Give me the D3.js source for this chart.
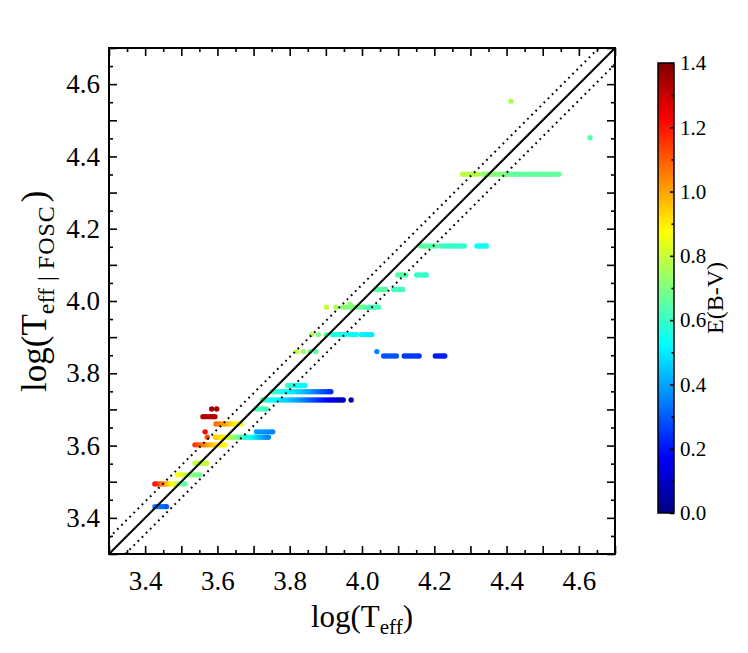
<!DOCTYPE html>
<html>
<head>
<meta charset="utf-8">
<script src="https://d3js.org/d3.v7.min.js"></script>
<style>
  body { margin: 0; background: #fff; }
  text { font-family: "Liberation Serif", "Times New Roman", serif; fill: #000; }
</style>
</head>
<body>
<div class="scatterChart"></div>
<script>
// ---- data ----
// log(Teff|FOSC) level of each horizontal row of stars
var rowLevels = [4.553, 4.452, 4.351, 4.152, 4.072, 4.032, 3.983, 3.991, 3.907, 3.860,
                 3.848, 3.766, 3.749, 3.726, 3.701, 3.680, 3.660, 3.638, 3.623, 3.602,
                 3.551, 3.519, 3.494, 3.431];

// points in each row: [log(Teff), E(B-V)]
var rowPoints = [
  [[4.412,0.76]],
  [[4.631,0.64]],
  [[4.278,0.78],[4.285,0.78],[4.292,0.78],[4.299,0.78],[4.306,0.78],[4.313,0.78],[4.320,0.78],
   [4.334,0.73],[4.341,0.73],[4.348,0.72],[4.355,0.72],[4.362,0.72],[4.369,0.71],[4.376,0.71],
   [4.383,0.70],[4.390,0.70],[4.397,0.69],[4.404,0.68],[4.411,0.67],[4.418,0.66],[4.425,0.66],
   [4.432,0.66],[4.439,0.66],[4.446,0.66],[4.453,0.66],[4.460,0.66],[4.467,0.66],[4.474,0.66],
   [4.481,0.66],[4.488,0.66],[4.495,0.66],[4.502,0.66],[4.509,0.66],[4.516,0.66],[4.523,0.66],
   [4.530,0.66],[4.537,0.66],[4.544,0.66]],
  [[4.163,0.65],[4.170,0.65],[4.177,0.65],[4.184,0.65],[4.191,0.65],[4.198,0.65],[4.205,0.65],
   [4.219,0.61],[4.226,0.61],[4.233,0.60],[4.240,0.60],[4.247,0.60],[4.254,0.60],[4.261,0.60],
   [4.268,0.59],[4.275,0.59],[4.283,0.59],
   [4.318,0.54],[4.325,0.54],[4.332,0.54],[4.339,0.54],[4.344,0.54]],
  [[4.099,0.64],[4.106,0.64],[4.113,0.64],[4.121,0.64],
   [4.151,0.60],[4.158,0.60],[4.165,0.60],[4.172,0.60],[4.178,0.60]],
  [[4.038,0.65],[4.045,0.65],[4.052,0.65],[4.059,0.65],[4.065,0.65],
   [4.088,0.62],[4.095,0.62],[4.102,0.62],[4.109,0.62],[4.113,0.62]],
  [[3.902,0.80],[3.928,0.76],[3.947,0.72],[3.954,0.72],[3.961,0.70],[3.968,0.70],[3.975,0.70],
   [3.982,0.70],[3.989,0.68],[3.996,0.68],[4.003,0.68],[4.008,0.66],
   [4.018,0.62],[4.025,0.62],[4.032,0.62],[4.039,0.62],[4.046,0.62]],
  [[3.967,0.72]],
  [[3.860,0.76],[3.879,0.70],[3.901,0.64],[3.918,0.57],[3.925,0.56],[3.932,0.56],[3.939,0.55],
   [3.946,0.55],[3.953,0.54],[3.968,0.53],[3.975,0.53],[3.984,0.53],
   [3.999,0.51],[4.006,0.51],[4.013,0.50],[4.020,0.50],[4.027,0.50]],
  [[3.819,0.80],[3.838,0.73],[3.856,0.68],[3.872,0.65],[4.041,0.36]],
  [[4.060,0.29],[4.067,0.29],[4.074,0.29],[4.081,0.29],[4.088,0.29],[4.095,0.29],
   [4.117,0.25],[4.124,0.25],[4.131,0.25],[4.138,0.25],[4.145,0.25],[4.152,0.25],[4.158,0.25],
   [4.203,0.21],[4.210,0.21],[4.217,0.21],[4.224,0.21],[4.229,0.21]],
  [[3.794,0.62],[3.802,0.58],[3.810,0.56],[3.818,0.55],[3.826,0.54],[3.834,0.53],[3.842,0.52]],
  [[3.753,0.62],[3.760,0.60],[3.767,0.58],[3.774,0.56],[3.781,0.55],[3.788,0.54],[3.795,0.52],
   [3.802,0.51],[3.809,0.50],[3.816,0.49],[3.823,0.47],[3.830,0.46],[3.837,0.45],[3.844,0.43],
   [3.851,0.41],[3.858,0.39],[3.865,0.37],[3.872,0.35],[3.879,0.33],[3.886,0.31],[3.893,0.29],
   [3.900,0.27],[3.907,0.25],[3.914,0.24]],
  [[3.725,0.63],[3.732,0.60],[3.739,0.58],[3.746,0.56],[3.753,0.54],[3.760,0.52],[3.767,0.51],
   [3.774,0.50],[3.781,0.48],[3.788,0.47],[3.795,0.46],[3.802,0.44],[3.809,0.43],[3.816,0.41],
   [3.823,0.39],[3.830,0.38],[3.837,0.36],[3.844,0.34],[3.851,0.32],[3.858,0.30],[3.865,0.28],
   [3.872,0.26],[3.879,0.24],[3.886,0.22],[3.893,0.21],[3.900,0.19],[3.907,0.17],[3.914,0.15],
   [3.921,0.14],[3.928,0.12],[3.935,0.11],[3.942,0.10],[3.948,0.09],[3.970,0.05]],
  [[3.584,1.35],[3.598,1.35],[3.707,0.62],[3.716,0.62],[3.726,0.61],[3.735,0.61]],
  [[3.560,1.33],[3.567,1.33],[3.574,1.33],[3.581,1.33],[3.588,1.33],[3.593,1.33]],
  [[3.596,1.08],[3.603,1.06],[3.610,1.04],[3.617,1.02],[3.624,1.00],[3.631,0.97],[3.638,0.94],
   [3.645,0.92],[3.652,0.90],[3.659,0.88],[3.666,0.86]],
  [[3.566,1.22],[3.708,0.39],[3.716,0.38],[3.724,0.38],[3.732,0.37],[3.740,0.37],[3.748,0.36],
   [3.753,0.36]],
  [[3.572,1.12],[3.594,0.94],[3.601,0.93],[3.608,0.92],[3.615,0.90],[3.622,0.87],[3.629,0.83],
   [3.636,0.79],[3.643,0.75],[3.650,0.72],[3.657,0.69],[3.664,0.65],[3.671,0.62],[3.678,0.59],
   [3.685,0.56],[3.692,0.54],[3.699,0.51],[3.706,0.48],[3.713,0.45],[3.720,0.43],[3.727,0.41],
   [3.734,0.38],[3.741,0.36]],
  [[3.538,1.16],[3.545,1.13],[3.552,1.10],[3.559,1.07],[3.566,1.04],[3.573,1.01],[3.580,0.98],
   [3.587,0.96],[3.594,0.94],[3.601,0.92],[3.608,0.90],[3.615,0.89],[3.621,0.88]],
  [[3.538,0.79],[3.545,0.79],[3.552,0.79],[3.559,0.79],[3.566,0.79],[3.570,0.79]],
  [[3.489,0.88],[3.496,0.86],[3.503,0.83],[3.510,0.80],[3.517,0.78],[3.524,0.75],[3.531,0.72],
   [3.538,0.70],[3.545,0.68],[3.551,0.67]],
  [[3.427,1.20],[3.434,1.17],[3.441,1.12],[3.448,1.07],[3.455,1.02],[3.462,0.97],[3.469,0.92],
   [3.476,0.88],[3.483,0.83],[3.490,0.78],[3.497,0.72],[3.504,0.68],[3.510,0.65]],
  [[3.427,0.36],[3.434,0.35],[3.441,0.34],[3.448,0.32],[3.455,0.31],[3.459,0.30]]
];

var axisDomain = [3.3, 4.7];
var majorTicks = [3.3, 3.4, 3.5, 3.6, 3.7, 3.8, 3.9, 4.0, 4.1, 4.2, 4.3, 4.4, 4.5, 4.6, 4.7];
var minorTicks = [3.35, 3.45, 3.55, 3.65, 3.75, 3.85, 3.95, 4.05, 4.15, 4.25, 4.35, 4.45, 4.55, 4.65];
var tickLabels = [3.4, 3.6, 3.8, 4.0, 4.2, 4.4, 4.6];
var lineOffsets = [-0.045, 0, 0.045];   // one-to-one line and the dotted band

var ebvDomain = [0, 1.4];
var cbMajor = [0, 0.2, 0.4, 0.6, 0.8, 1.0, 1.2, 1.4];
var cbMinor = [0.1, 0.3, 0.5, 0.7, 0.9, 1.1, 1.3];

// ---- layout ----
var svgWidth = 748;
var svgHeight = 653;
var plot = { left: 109, right: 615, top: 48, bottom: 554 };
var cb = { left: 658, right: 674, top: 63, bottom: 513 };

var svg = d3.select(".scatterChart")
  .append("svg")
  .attr("width", svgWidth)
  .attr("height", svgHeight);

var xScale = d3.scaleLinear().domain(axisDomain).range([plot.left, plot.right]);
var yScale = d3.scaleLinear().domain(axisDomain).range([plot.bottom, plot.top]);

// IDL style jet colour table
function jet(t) {
  var c = v => Math.max(0, Math.min(1, v));
  var r = c(1.5 - Math.abs(4 * t - 3));
  var g = c(1.5 - Math.abs(4 * t - 2));
  var b = c(1.5 - Math.abs(4 * t - 1));
  return d3.rgb(r * 255, g * 255, b * 255).formatHex();
}
var colorScale = d3.scaleSequential(jet).domain(ebvDomain);

// dots
var flat = [];
rowPoints.forEach(function(pts, i) {
  pts.forEach(function(p) {
    flat.push({ teff: p[0], fosc: rowLevels[i], ebv: p[1] });
  });
});

svg.append("g")
  .selectAll("circle")
  .data(flat)
  .enter()
  .append("circle")
  .attr("cx", d => xScale(d.teff))
  .attr("cy", d => yScale(d.fosc))
  .attr("r", 2.7)
  .attr("fill", d => colorScale(d.ebv));

// one-to-one line and dotted lines
svg.append("clipPath").attr("id", "plotClip")
  .append("rect")
  .attr("x", plot.left).attr("y", plot.top)
  .attr("width", plot.right - plot.left).attr("height", plot.bottom - plot.top);

svg.append("g")
  .attr("clip-path", "url(#plotClip)")
  .selectAll("line")
  .data(lineOffsets)
  .enter()
  .append("line")
  .attr("x1", xScale(axisDomain[0]))
  .attr("y1", d => yScale(axisDomain[0] + d))
  .attr("x2", xScale(axisDomain[1]))
  .attr("y2", d => yScale(axisDomain[1] + d))
  .attr("stroke", "#000")
  .attr("stroke-width", 2)
  .attr("stroke-dasharray", d => d === 0 ? null : "1.8,4");

// axes, ticks pointing inward on all four sides
function styleAxis(g) {
  g.select(".domain").remove();
  g.selectAll(".tick line").attr("stroke", "#000").attr("stroke-width", 1.6);
}
var fmt = v => tickLabels.some(t => Math.abs(t - v) < 1e-6) ? d3.format(".1f")(v) : "";

svg.append("g")
  .attr("transform", `translate(0, ${plot.bottom})`)
  .call(d3.axisBottom(xScale).tickValues(majorTicks).tickSize(-8).tickPadding(17).tickFormat(fmt))
  .call(styleAxis)
  .selectAll("text").style("font-size", "27px").attr("font-family", null);
svg.append("g")
  .attr("transform", `translate(0, ${plot.bottom})`)
  .call(d3.axisBottom(xScale).tickValues(minorTicks).tickSize(-4).tickFormat(""))
  .call(styleAxis);
svg.append("g")
  .attr("transform", `translate(0, ${plot.top})`)
  .call(d3.axisTop(xScale).tickValues(majorTicks).tickSize(-8).tickFormat(""))
  .call(styleAxis);
svg.append("g")
  .attr("transform", `translate(0, ${plot.top})`)
  .call(d3.axisTop(xScale).tickValues(minorTicks).tickSize(-4).tickFormat(""))
  .call(styleAxis);

svg.append("g")
  .attr("transform", `translate(${plot.left}, 0)`)
  .call(d3.axisLeft(yScale).tickValues(majorTicks).tickSize(-8).tickPadding(9).tickFormat(fmt))
  .call(styleAxis)
  .selectAll("text").style("font-size", "27px").attr("font-family", null);
svg.append("g")
  .attr("transform", `translate(${plot.left}, 0)`)
  .call(d3.axisLeft(yScale).tickValues(minorTicks).tickSize(-4).tickFormat(""))
  .call(styleAxis);
svg.append("g")
  .attr("transform", `translate(${plot.right}, 0)`)
  .call(d3.axisRight(yScale).tickValues(majorTicks).tickSize(-8).tickFormat(""))
  .call(styleAxis);
svg.append("g")
  .attr("transform", `translate(${plot.right}, 0)`)
  .call(d3.axisRight(yScale).tickValues(minorTicks).tickSize(-4).tickFormat(""))
  .call(styleAxis);

// frame
svg.append("rect")
  .attr("x", plot.left).attr("y", plot.top)
  .attr("width", plot.right - plot.left).attr("height", plot.bottom - plot.top)
  .attr("fill", "none").attr("stroke", "#000").attr("stroke-width", 2);

// axis titles
var xTitle = svg.append("text")
  .attr("x", (plot.left + plot.right) / 2)
  .attr("y", 627)
  .attr("text-anchor", "middle")
  .style("font-size", "31px");
xTitle.append("tspan").text("log(T");
xTitle.append("tspan").attr("dy", 7).style("font-size", "21px").text("eff");
xTitle.append("tspan").attr("dy", -7).text(")");

var yTitle = svg.append("text")
  .attr("transform", "translate(46, 392) rotate(-90)")
  .attr("text-anchor", "start")
  .style("font-size", "35px");
yTitle.append("tspan").text("log(T");
yTitle.append("tspan").attr("dy", 8).style("font-size", "24px").text("eff");
yTitle.append("tspan").attr("dx", 7).style("font-size", "24px").text("|");
yTitle.append("tspan").attr("dx", 7).style("font-size", "24px")
  .style("letter-spacing", "1px").text("FOSC");
yTitle.append("tspan").attr("dy", -8).attr("dx", 3).text(")");

// colour bar
var cbScale = d3.scaleLinear().domain(ebvDomain).range([cb.bottom, cb.top]);
var grad = svg.append("defs").append("linearGradient")
  .attr("id", "jetGrad")
  .attr("x1", "0").attr("y1", "1").attr("x2", "0").attr("y2", "0");
grad.selectAll("stop")
  .data(d3.range(0, 1.0001, 0.025))
  .enter()
  .append("stop")
  .attr("offset", d => d)
  .attr("stop-color", d => jet(d));

svg.append("rect")
  .attr("x", cb.left).attr("y", cb.top)
  .attr("width", cb.right - cb.left).attr("height", cb.bottom - cb.top)
  .attr("fill", "url(#jetGrad)");

svg.append("g")
  .attr("transform", `translate(${cb.right}, 0)`)
  .call(d3.axisRight(cbScale).tickValues(cbMajor).tickSize(-4).tickPadding(6).tickFormat(d3.format(".1f")))
  .call(styleAxis)
  .selectAll("text").style("font-size", "21px").attr("font-family", null);
svg.append("g")
  .attr("transform", `translate(${cb.right}, 0)`)
  .call(d3.axisRight(cbScale).tickValues(cbMinor).tickSize(-2.5).tickFormat(""))
  .call(styleAxis);

svg.append("rect")
  .attr("x", cb.left).attr("y", cb.top)
  .attr("width", cb.right - cb.left).attr("height", cb.bottom - cb.top)
  .attr("fill", "none").attr("stroke", "#000").attr("stroke-width", 1.5);

svg.append("text")
  .attr("transform", `translate(723, ${(cb.top + cb.bottom) / 2 + 10}) rotate(-90)`)
  .attr("text-anchor", "middle")
  .style("font-size", "24px")
  .text("E(B-V)");
</script>
</body>
</html>
